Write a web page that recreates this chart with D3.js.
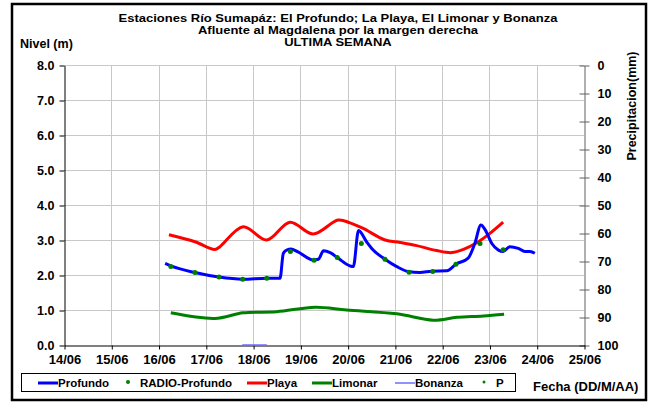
<!DOCTYPE html>
<html>
<head>
<meta charset="utf-8">
<script src="https://cdn.jsdelivr.net/npm/d3@7"></script>
<style>
  html, body { margin: 0; padding: 0; background: #fff; }
  svg text { font-family: "Liberation Sans", Arial, sans-serif; font-weight: bold; fill: #000; }
</style>
</head>
<body>
<div id="chart"></div>
<script>
// Days counted from 14/06 00:00
const dayTicks = ["14/06","15/06","16/06","17/06","18/06","19/06","20/06","21/06","22/06","23/06","24/06","25/06"];
const levelTicks = [0, 1, 2, 3, 4, 5, 6, 7, 8];
const rainTicks = [0, 10, 20, 30, 40, 50, 60, 70, 80, 90, 100];

// Profundo (m)
const profundoDays = [2.14,2.26,2.77,3.28,3.78,4.29,4.57,4.64,4.72,4.80,4.95,5.27,5.38,5.49,5.63,5.80,6.05,6.12,6.23,6.40,6.51,6.79,7.04,7.28,7.53,7.78,8.10,8.29,8.55,8.69,8.82,8.91,9.05,9.19,9.29,9.43,9.61,9.75,9.86,9.96];
const profundoLevels = [2.33,2.26,2.07,1.94,1.88,1.91,1.91,2.62,2.72,2.74,2.66,2.43,2.45,2.69,2.64,2.48,2.26,2.24,3.27,2.95,2.76,2.45,2.24,2.10,2.07,2.11,2.12,2.31,2.48,2.90,3.43,3.29,2.90,2.71,2.67,2.81,2.76,2.67,2.67,2.62];

// RADIO-Profundo (m)
const radioDays = [2.26,2.77,3.28,3.78,4.29,4.79,5.29,5.78,6.29,6.79,7.30,7.80,8.29,8.80,9.29];
const radioLevels = [2.24,2.07,1.94,1.88,1.91,2.67,2.42,2.50,2.90,2.45,2.08,2.10,2.31,2.90,2.72];

// Playa (m)
const playaDays = [2.22,2.77,3.19,3.30,3.79,4.29,4.78,5.27,5.80,6.05,6.33,6.79,7.11,7.46,7.88,8.20,8.45,8.73,9.01,9.29];
const playaLevels = [3.15,2.95,2.73,2.81,3.38,3.00,3.51,3.17,3.57,3.49,3.33,3.00,2.93,2.84,2.70,2.64,2.73,2.92,3.19,3.51];

// Limonar (m)
const limonarDays = [2.26,3.19,3.79,4.50,5.31,5.98,7.04,7.81,8.31,8.87,9.31];
const limonarLevels = [0.92,0.76,0.92,0.95,1.08,1.00,0.89,0.71,0.79,0.83,0.88];

// Bonanza (m)
const bonanzaDays = [3.77, 4.29];
const bonanzaLevels = [0, 0];

// P (mm) - no rain recorded
const pDays = [];
const pValues = [];

const legendItems = ["Profundo", "RADIO-Profundo", "Playa", "Limonar", "Bonanza", "P"];

const W = 651, H = 403;
const m = { left: 64, right: 584, top: 65, bottom: 345 };

const svg = d3.select("#chart").append("svg")
  .attr("width", W).attr("height", H);

// outer frame
svg.append("rect")
  .attr("x", 12).attr("y", 4).attr("width", 634).attr("height", 396)
  .attr("fill", "none").attr("stroke", "#000").attr("stroke-width", 2.5);

const x = d3.scaleLinear().domain([0, dayTicks.length - 1]).range([m.left, m.right]);
const y = d3.scaleLinear().domain([0, 8]).range([m.bottom, m.top]);
const y2 = d3.scaleLinear().domain([0, 100]).range([m.top, m.bottom]);

// grid
const grid = svg.append("g").attr("stroke", "#c8c8c8").attr("stroke-width", 1);
grid.selectAll("line.h").data(levelTicks.slice(1)).enter().append("line")
  .attr("x1", m.left).attr("x2", m.right)
  .attr("y1", d => y(d) + 0.5).attr("y2", d => y(d) + 0.5);
grid.selectAll("line.v").data(d3.range(1, dayTicks.length - 1)).enter().append("line")
  .attr("y1", m.top).attr("y2", m.bottom)
  .attr("x1", d => Math.round(x(d)) + 0.5).attr("x2", d => Math.round(x(d)) + 0.5);

// left axis
const yAxis = svg.append("g")
  .attr("transform", `translate(${m.left + 0.5},0.5)`)
  .call(d3.axisLeft(y).tickValues(levelTicks).tickFormat(d3.format(".1f")).tickSize(5).tickSizeOuter(0).tickPadding(5));
yAxis.select(".domain").attr("stroke", "#000");
yAxis.selectAll("text").attr("font-size", 12.5);

// right axis (precipitation, reversed)
const y2Axis = svg.append("g")
  .attr("transform", `translate(${m.right + 0.5},0.5)`)
  .call(d3.axisRight(y2).tickValues(rainTicks).tickSize(5).tickSizeOuter(0).tickPadding(8));
y2Axis.select(".domain").attr("stroke", "#606060");
y2Axis.selectAll(".tick line").attr("x1", -5).attr("stroke", "#606060");
y2Axis.selectAll("text").attr("font-size", 12.5);

// bottom axis
const xAxis = svg.append("g")
  .attr("transform", `translate(0.5,${m.bottom + 0.5})`)
  .call(d3.axisBottom(x).tickValues(d3.range(dayTicks.length)).tickFormat(i => dayTicks[i]).tickSize(4).tickSizeOuter(0).tickPadding(5));
xAxis.select(".domain").attr("stroke", "#000");
xAxis.selectAll("text").attr("font-size", 13);

// series
const zip = (a, b) => a.map((d, i) => [d, b[i]]);
const line = d3.line().x(d => x(d[0])).y(d => y(d[1]));

svg.append("path")
  .attr("fill", "none").attr("stroke", "#008000").attr("stroke-width", 3)
  .attr("d", line.curve(d3.curveCatmullRom)(zip(limonarDays, limonarLevels)));

svg.append("path")
  .attr("fill", "none").attr("stroke", "#ff0000").attr("stroke-width", 3)
  .attr("d", line.curve(d3.curveCatmullRom)(zip(playaDays, playaLevels)));

svg.append("path")
  .attr("fill", "none").attr("stroke", "#0000ff").attr("stroke-width", 3)
  .attr("stroke-linejoin", "round")
  .attr("d", line.curve(d3.curveMonotoneX)(zip(profundoDays, profundoLevels)));

svg.append("path")
  .attr("fill", "none").attr("stroke", "#6b6bff").attr("stroke-width", 1.5)
  .attr("d", line.curve(d3.curveLinear)(zip(bonanzaDays, bonanzaLevels)));

svg.append("g").selectAll("circle").data(zip(radioDays, radioLevels)).enter().append("circle")
  .attr("cx", d => x(d[0])).attr("cy", d => y(d[1])).attr("r", 2.5).attr("fill", "#008000");

svg.append("g").selectAll("circle").data(zip(pDays, pValues)).enter().append("circle")
  .attr("cx", d => x(d[0])).attr("cy", d => y2(d[1])).attr("r", 1.5).attr("fill", "#008000");

// titles (slightly wide lettering, like the original)
const titles = ["Estaciones Río Sumapáz: El Profundo; La Playa, El Limonar y Bonanza",
  "Afluente al Magdalena por la margen derecha", "ULTIMA SEMANA"];
svg.selectAll("text.title").data(titles).enter().append("text")
  .attr("class", "title")
  .attr("transform", (d, i) => `translate(338,${21.5 + i * 12.3}) scale(1.13,1)`)
  .attr("text-anchor", "middle").attr("font-size", 11.5)
  .text(d => d);

svg.append("text").attr("x", 20).attr("y", 48).attr("font-size", 12.5).text("Nivel (m)");
svg.append("text")
  .attr("transform", "translate(636,106) rotate(-90)")
  .attr("text-anchor", "middle").attr("font-size", 12.5)
  .text("Precipitacion(mm)");
svg.append("text").attr("x", 533).attr("y", 391).attr("font-size", 13).text("Fecha (DD/M/AA)");

// legend
const lg = svg.append("g");
lg.append("rect").attr("x", 21.5).attr("y", 373.5).attr("width", 494).attr("height", 18)
  .attr("fill", "#fff").attr("stroke", "#000").attr("stroke-width", 1);
const legendX = [38, 118, 247, 312, 395, 474];
const legendStyle = [
  { type: "line", color: "#0000ff", w: 3 },
  { type: "dot", color: "#008000", r: 2 },
  { type: "line", color: "#ff0000", w: 3 },
  { type: "line", color: "#008000", w: 3 },
  { type: "line", color: "#6b6bff", w: 1.5 },
  { type: "dot", color: "#008000", r: 1.5 }
];
legendItems.forEach((name, i) => {
  const s = legendStyle[i], lx = legendX[i], ly = 383;
  if (s.type === "line") {
    lg.append("line").attr("x1", lx).attr("x2", lx + 20).attr("y1", ly).attr("y2", ly)
      .attr("stroke", s.color).attr("stroke-width", s.w);
  } else {
    lg.append("circle").attr("cx", lx + 10).attr("cy", ly - 1).attr("r", s.r).attr("fill", s.color);
  }
  lg.append("text").attr("x", lx + (s.type === "line" ? 20 : 22)).attr("y", ly + 4)
    .attr("font-size", 11.5).text(name);
});
</script>
</body>
</html>
